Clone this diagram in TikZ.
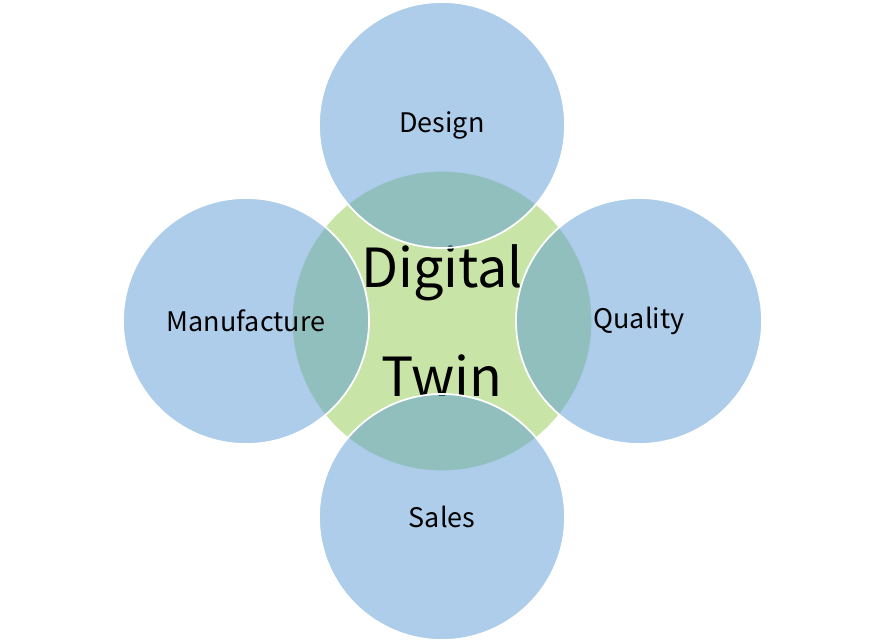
\documentclass[tikz,border=0pt]{standalone}
\usepackage{fontspec}
\setmainfont{Noto Sans CJK JP}
\usepackage{xcolor}
\definecolor{hubgreen}{RGB}{200,228,166}
\definecolor{areablue}{RGB}{91,155,213}

\begin{document}
\begin{tikzpicture}[x=0.03cm, y=-0.03cm,
	hub/.style={circle, fill=hubgreen, draw=white, line width=1pt, inner sep=0pt, minimum size=9cm, align=center, font=\fontsize{46}{55}\selectfont},
	area/.style={circle, fill=areablue, fill opacity=0.5, text opacity=1, draw=white, draw opacity=1, line width=1.5pt, inner sep=0pt, minimum size=7.38cm, font=\fontsize{23}{27}\selectfont}]
	\useasboundingbox (0,0) rectangle (885,643);
	\node[hub] (twin) at (442,321) {Digital\\[38pt]Twin};
	\node[area] (design) at (442,125) {Design};
	\node[area] (quality) at (639,321) {Quality};
	\node[area] (sales) at (442,517) {Sales};
	\node[area] (manufacture) at (246,321) {Manufacture};
\end{tikzpicture}
\end{document}
